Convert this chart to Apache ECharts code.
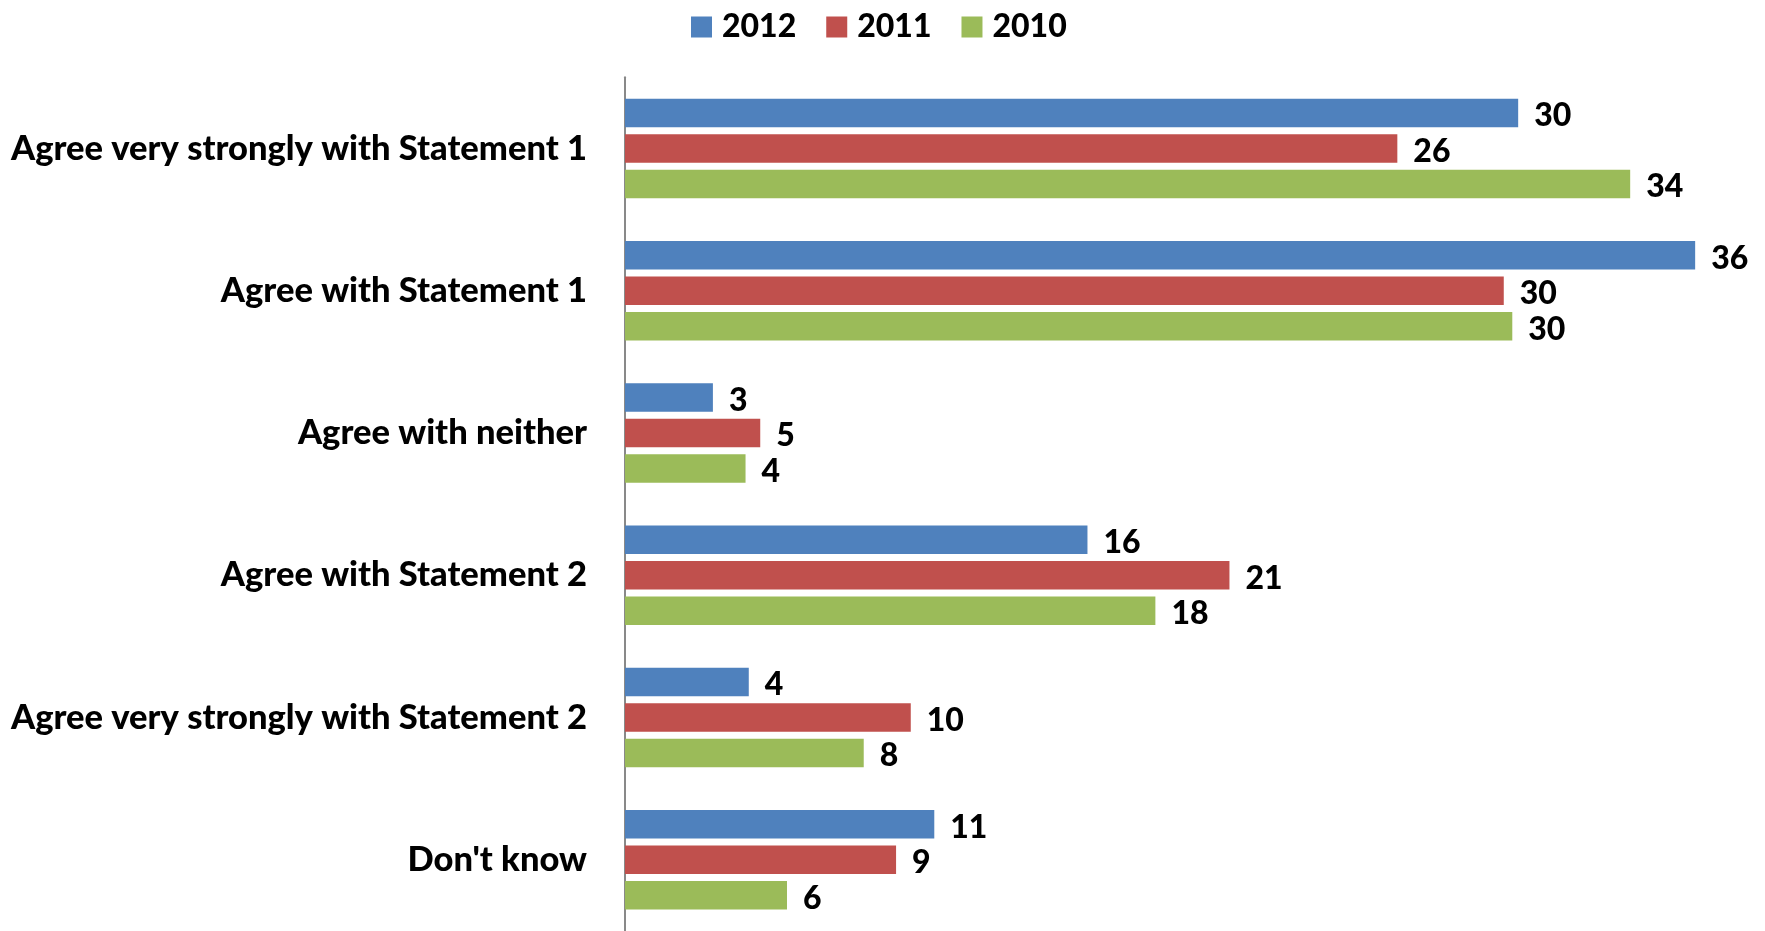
<!DOCTYPE html>
<html>
<head>
<meta charset="utf-8">
<script src="https://cdn.jsdelivr.net/npm/echarts@6/dist/echarts.min.js"></script>
<style>
html,body{margin:0;padding:0;background:#fff;}
#chart{width:1765px;height:931px;}
</style>
</head>
<body>
<div id="chart"></div>
<script>
const categories = [
  "Agree very strongly with Statement 1",
  "Agree with Statement 1",
  "Agree with neither",
  "Agree with Statement 2",
  "Agree very strongly with Statement 2",
  "Don't know"
];
const seriesNames = ["2012", "2011", "2010"];
const values2012 = [30.38, 36.40, 2.99, 15.73, 4.21, 10.52];
const values2011 = [26.27, 29.89, 4.60, 20.56, 9.72, 9.22];
const values2010 = [34.19, 30.18, 4.10, 18.04, 8.12, 5.51];
const colors = ["#4F81BD", "#C0504D", "#9BBB59"];

const FONT = "Lato";
const chart = echarts.init(document.getElementById("chart"), null, {renderer: "canvas"});
const allValues = [values2012, values2011, values2010];

const series = seriesNames.map((name, i) => ({
  name: name,
  type: "bar",
  data: allValues[i],
  barWidth: 28.5,
  barGap: "24.6%",
  barCategoryGap: "30%",
  itemStyle: {color: colors[i]},
  label: {
    show: true,
    position: "right",
    distance: 16,
    offset: [0, 3],
    formatter: p => String(Math.round(p.value)),
    fontFamily: FONT,
    fontWeight: 900,
    fontSize: 32,
    color: "#000"
  },
  animation: false
}));

chart.setOption({
  animation: false,
  color: colors,
  legend: {
    data: seriesNames,
    left: 686,
    top: 6,
    itemWidth: 21,
    itemHeight: 21,
    itemGap: 30,
    icon: "rect",
    textStyle: {
      fontFamily: FONT,
      fontWeight: 900,
      fontSize: 32,
      color: "#000",
      padding: [0, 0, 0, 5]
    }
  },
  grid: {
    left: 625,
    top: 77.3,
    width: 1117.2,
    height: 858.6,
    containLabel: false
  },
  xAxis: {
    type: "value",
    min: 0,
    max: 38,
    show: false,
    splitLine: {show: false}
  },
  yAxis: {
    type: "category",
    data: categories,
    inverse: true,
    axisLine: {show: true, lineStyle: {color: "#898989", width: 2}},
    axisTick: {show: false},
    axisLabel: {
      margin: 38,
      padding: [6, 0, 0, 0],
      fontFamily: FONT,
      fontWeight: 900,
      fontSize: 34.5,
      color: "#000"
    }
  },
  series: series
});
</script>
</body>
</html>
